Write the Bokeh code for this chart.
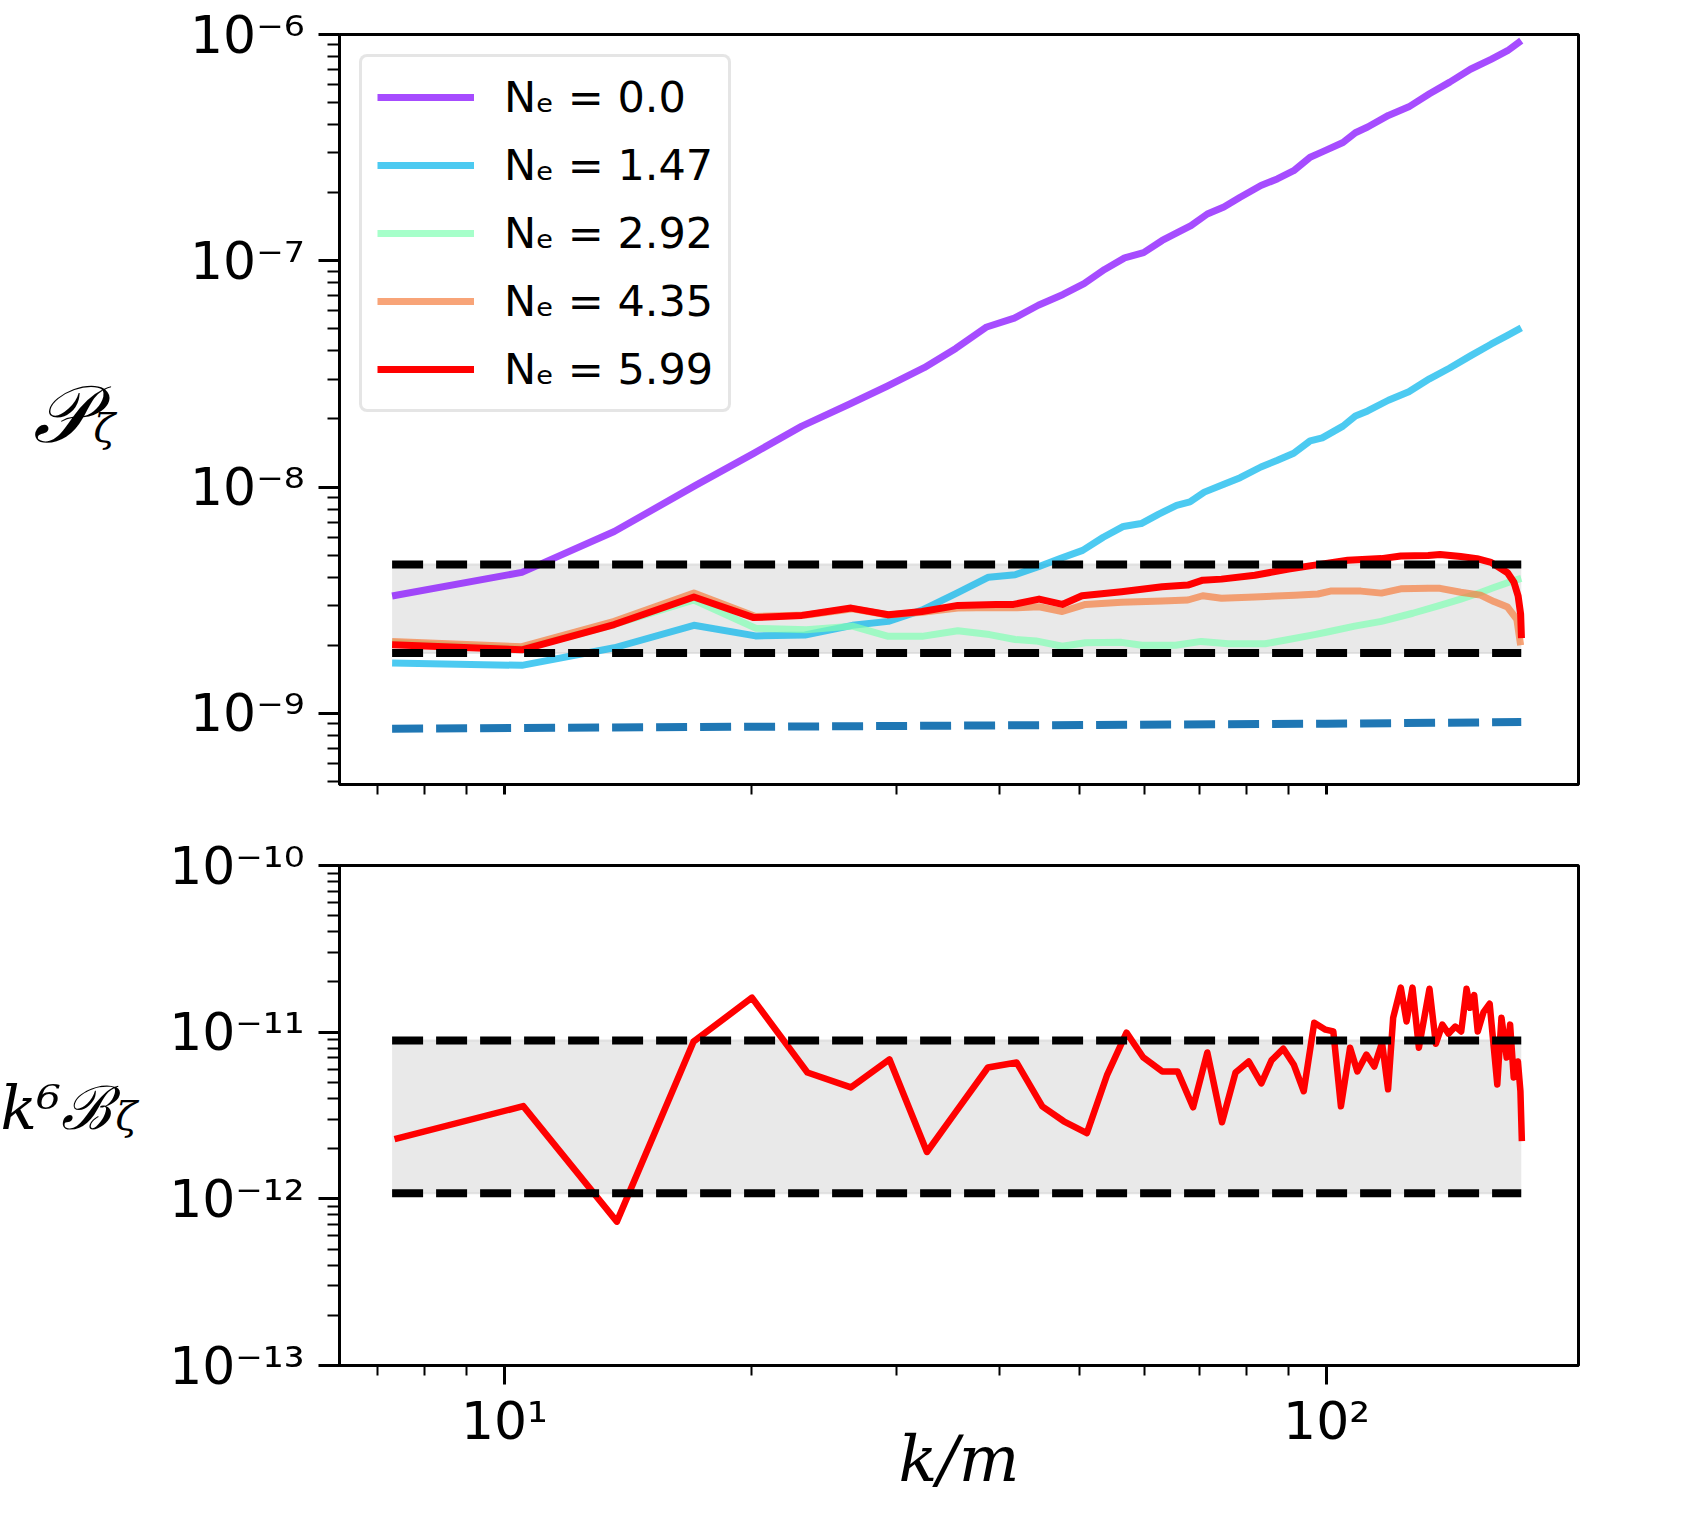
from bokeh.plotting import figure
from bokeh.models import Range1d, FixedTicker, CustomJSTickFormatter
from bokeh.layouts import column, row
from bokeh.embed import file_html
from bokeh.resources import INLINE
from bokeh.core.properties import value

# ---------------- data ----------------
labels = ["N\u2091 = 0.0", "N\u2091 = 1.47", "N\u2091 = 2.92", "N\u2091 = 4.35", "N\u2091 = 5.99"]

k_ne0 = [7.3, 10.5, 13.6, 17.1, 20.1, 23.0, 26.3, 29.2, 32.4, 35.4, 38.6, 41.7, 44.6, 47.8, 50.7,
         53.7, 56.8, 59.9, 63.1, 66.0, 68.4, 71.6, 75.0, 78.5, 83.2, 87.1, 91.2, 95.5, 98.8, 104.7,
         108.4, 112.2, 118.9, 125.9, 133.4, 141.2, 149.6, 158.5, 166.0, 172.5]
P_ne0 = [3.3e-9, 4.2e-9, 6.36e-9, 1.02e-8, 1.41e-8, 1.86e-8, 2.33e-8, 2.79e-8, 3.37e-8, 4.1e-8,
         5.1e-8, 5.58e-8, 6.36e-8, 7.1e-8, 7.93e-8, 9.16e-8, 1.03e-7, 1.087e-7, 1.23e-7, 1.34e-7,
         1.43e-7, 1.61e-7, 1.73e-7, 1.91e-7, 2.15e-7, 2.30e-7, 2.50e-7, 2.87e-7, 3.03e-7, 3.33e-7,
         3.68e-7, 3.90e-7, 4.39e-7, 4.79e-7, 5.47e-7, 6.16e-7, 7.02e-7, 7.77e-7, 8.48e-7, 9.4e-7]

k_ne1 = [7.3, 10.5, 13.6, 17.0, 20.2, 23.2, 26.5, 29.3, 32.2, 35.5, 38.8, 41.8, 44.7, 47.5, 50.5,
         53.5, 56.6, 59.5, 62.5, 65.7, 68.2, 71.0, 75.0, 78.5, 83.2, 87.0, 91.2, 95.5, 98.8, 104.7,
         108.4, 112.2, 118.9, 125.9, 133.4, 141.2, 149.6, 158.5, 166.0, 172.5]
P_ne1 = [1.67e-9, 1.63e-9, 1.95e-9, 2.45e-9, 2.2e-9, 2.22e-9, 2.45e-9, 2.55e-9, 2.86e-9, 3.4e-9,
         4.0e-9, 4.1e-9, 4.46e-9, 4.85e-9, 5.25e-9, 6.0e-9, 6.7e-9, 6.9e-9, 7.6e-9, 8.3e-9,
         8.6e-9, 9.5e-9, 1.03e-8, 1.1e-8, 1.227e-8, 1.31e-8, 1.41e-8, 1.60e-8, 1.65e-8, 1.86e-8,
         2.06e-8, 2.17e-8, 2.42e-8, 2.64e-8, 3.01e-8, 3.36e-8, 3.80e-8, 4.28e-8, 4.68e-8, 5.05e-8]

k_ne2 = [7.3, 10.5, 13.6, 17.0, 20.2, 23.3, 26.5, 29.3, 32.2, 35.6, 38.9, 41.8, 44.3, 47.7, 50.9,
         56.3, 59.6, 65.5, 70.4, 75.9, 84.2, 89.9, 96.7, 100.2, 108.2, 116.6, 127.3, 137.4, 145.6,
         153.9, 159.8, 166.0, 172.5]
P_ne2 = [2.05e-9, 1.93e-9, 2.47e-9, 3.17e-9, 2.38e-9, 2.34e-9, 2.43e-9, 2.19e-9, 2.19e-9, 2.32e-9,
         2.23e-9, 2.12e-9, 2.09e-9, 1.98e-9, 2.05e-9, 2.06e-9, 2.0e-9, 2.0e-9, 2.08e-9, 2.03e-9,
         2.03e-9, 2.12e-9, 2.23e-9, 2.29e-9, 2.43e-9, 2.55e-9, 2.77e-9, 3.0e-9, 3.2e-9, 3.42e-9,
         3.6e-9, 3.78e-9, 3.95e-9]

k_ne3 = [7.3, 10.5, 13.6, 17.0, 20.2, 23.3, 26.5, 29.3, 32.2, 35.6, 39.6, 42.0, 44.7, 47.7, 50.9,
         56.3, 63.1, 67.8, 70.7, 74.5, 81.8, 91.5, 97.6, 101.1, 110.1, 116.6, 123.1, 132.9, 137.4,
         145.6, 153.9, 159.8, 166.0, 170.4, 172.2]
P_ne3 = [2.08e-9, 1.97e-9, 2.55e-9, 3.4e-9, 2.68e-9, 2.72e-9, 2.9e-9, 2.72e-9, 2.8e-9, 2.92e-9,
         2.94e-9, 2.93e-9, 2.96e-9, 2.82e-9, 3.03e-9, 3.10e-9, 3.14e-9, 3.17e-9, 3.31e-9, 3.23e-9,
         3.27e-9, 3.33e-9, 3.37e-9, 3.47e-9, 3.47e-9, 3.4e-9, 3.55e-9, 3.57e-9, 3.57e-9, 3.43e-9,
         3.33e-9, 3.12e-9, 2.95e-9, 2.6e-9, 2.0e-9]

k_ne4 = [7.3, 10.5, 13.6, 17.0, 20.1, 23.0, 26.4, 29.3, 32.2, 35.6, 39.6, 41.6, 44.7, 47.7, 50.4,
         56.3, 63.1, 67.8, 70.7, 74.5, 81.8, 89.9, 96.7, 106.1, 116.6, 123.1, 132.9, 137.4, 145.6,
         152.4, 158.5, 166.0, 169.0, 171.0, 172.2, 172.6]
P_ne4 = [2.01e-9, 1.91e-9, 2.47e-9, 3.27e-9, 2.65e-9, 2.71e-9, 2.92e-9, 2.73e-9, 2.82e-9, 3.0e-9,
         3.03e-9, 3.03e-9, 3.2e-9, 3.03e-9, 3.31e-9, 3.45e-9, 3.63e-9, 3.69e-9, 3.88e-9, 3.92e-9,
         4.08e-9, 4.34e-9, 4.52e-9, 4.75e-9, 4.83e-9, 4.96e-9, 4.99e-9, 5.04e-9, 4.93e-9, 4.83e-9,
         4.65e-9, 4.18e-9, 3.8e-9, 3.3e-9, 2.75e-9, 2.15e-9]

k_ref = [7.3, 17.0, 40.0, 100.0, 172.5]
P_ref = [8.55e-10, 8.7e-10, 8.85e-10, 9.0e-10, 9.15e-10]

band_k = [7.3, 172.5]
P_band_lo = [1.85e-9, 1.85e-9]
P_band_hi = [4.55e-9, 4.55e-9]
B_band_lo = [1.08e-12, 1.08e-12]
B_band_hi = [8.9e-12, 8.9e-12]

k_B = [7.35, 10.54, 13.7, 16.98, 20.0, 23.36, 26.39, 29.4, 32.65, 35.44, 38.73, 41.98, 45.1, 47.9,
       51.1, 54.1, 57.1, 59.85, 63.1, 65.9, 68.8, 71.6, 74.6, 77.5, 80.4, 83.3, 85.7, 88.6, 91.2,
       93.8, 96.6, 99.7, 101.9, 104.1, 106.8, 109.0, 111.8, 114.3, 116.8, 118.8, 120.5, 123.1,
       125.1, 127.2, 129.5, 133.4, 135.8, 138.3, 140.7, 143.4, 145.8, 148.0, 149.5, 151.2, 152.7,
       155.2, 157.9, 161.3, 163.2, 165.6, 167.2, 168.9, 170.9, 172.1, 172.8]
B_k6 = [2.28e-12, 3.6e-12, 7.3e-13, 8.77e-12, 1.61e-11, 5.73e-12, 4.66e-12, 6.86e-12, 1.91e-12,
        3.35e-12, 6.14e-12, 6.57e-12, 3.59e-12, 2.92e-12, 2.48e-12, 5.57e-12, 9.93e-12, 7.05e-12,
        5.81e-12, 5.81e-12, 3.54e-12, 7.55e-12, 2.88e-12, 5.73e-12, 6.67e-12, 4.93e-12, 6.77e-12,
        7.96e-12, 6.40e-12, 4.42e-12, 1.14e-11, 1.035e-11, 1.01e-11, 3.59e-12, 8.07e-12, 5.81e-12,
        7.34e-12, 6.22e-12, 8.65e-12, 4.54e-12, 1.22e-11, 1.85e-11, 1.16e-11, 1.85e-11, 8.07e-12,
        1.82e-11, 8.53e-12, 1.11e-11, 9.8e-12, 1.08e-11, 1.01e-11, 1.82e-11, 1.40e-11, 1.67e-11,
        1.01e-11, 1.32e-11, 1.48e-11, 4.86e-12, 1.22e-11, 7.05e-12, 1.11e-11, 5.35e-12, 6.67e-12,
        4.42e-12, 2.22e-12]

x_major = [10, 100]
x_minor = [7, 8, 9, 20, 30, 40, 50, 60, 70, 80, 90]
y1_major = [1e-9, 1e-8, 1e-7, 1e-6]
y2_major = [1e-13, 1e-12, 1e-11, 1e-10]
mult = [2, 3, 4, 5, 6, 7, 8, 9]
y1_minor = [m * d for d in [1e-10, 1e-9, 1e-8, 1e-7] for m in mult]
y2_minor = [m * d for d in [1e-13, 1e-12, 1e-11] for m in mult]

colors = ["#8000ff", "#00b4eb", "#80ffb4", "#f57e3e", "#ff0000"]
alphas = [0.7, 0.7, 0.7, 0.7, 1.0]

ylabel1 = ["\U0001D4AB", "\u03b6"]
ylabel2 = ["k\u2076\u212c", "\u03b6"]
xlabel = "k/m"

# ---------------- figures ----------------
sup_code = """
const e = Math.round(Math.log10(tick));
const m = {'-':'\u207b','0':'\u2070','1':'\u00b9','2':'\u00b2','3':'\u00b3','4':'\u2074',
           '5':'\u2075','6':'\u2076','7':'\u2077','8':'\u2078','9':'\u2079'};
return '10' + String(e).split('').map(c => m[c]).join('');
"""

xr = Range1d(6.3, 202.5)
LW = 150          # width of the label strip on the left
W = 1690 - LW
FL, FR = 189, 112
H1, H2 = 824, 686


def style(p, ymaj, ymin, xlabels=True):
    p.outline_line_color = "black"
    p.outline_line_width = 3
    p.xgrid.visible = False
    p.ygrid.visible = False
    p.background_fill_color = "white"
    p.border_fill_color = "white"
    p.xaxis.ticker = FixedTicker(ticks=x_major, minor_ticks=x_minor)
    p.yaxis.ticker = FixedTicker(ticks=ymaj, minor_ticks=ymin)
    for ax in (p.xaxis[0], p.yaxis[0]):
        ax.axis_line_width = 3
        ax.major_tick_line_width = 3
        ax.minor_tick_line_width = 2
        ax.major_tick_in = 0
        ax.minor_tick_in = 0
        ax.major_label_text_font = "DejaVu Sans"
        ax.major_label_text_font_size = "52px"
        ax.major_label_text_color = "black"
    p.yaxis.major_tick_out = 21
    p.yaxis.minor_tick_out = 12
    p.xaxis.major_tick_out = 19 if xlabels else 10
    p.xaxis.minor_tick_out = 10
    p.yaxis.major_label_standoff = 14
    p.xaxis.major_label_standoff = 6
    p.yaxis.formatter = CustomJSTickFormatter(code=sup_code)
    if xlabels:
        p.xaxis.formatter = CustomJSTickFormatter(code=sup_code)
    else:
        p.xaxis.formatter = CustomJSTickFormatter(code="return '';")


def label_strip(h):
    f = figure(width=LW, height=h, x_range=Range1d(0, LW), y_range=Range1d(h, 0),
               output_backend="svg", toolbar_location=None,
               x_axis_location=None, y_axis_location=None,
               min_border_left=0, min_border_right=0, min_border_top=0, min_border_bottom=0)
    f.outline_line_color = None
    f.xgrid.visible = False
    f.ygrid.visible = False
    f.background_fill_color = "white"
    f.border_fill_color = "white"
    return f


p1 = figure(width=W, height=H1, x_axis_type="log", y_axis_type="log",
            x_range=xr, y_range=Range1d(4.85e-10, 1e-6),
            output_backend="svg", toolbar_location=None,
            min_border_left=FL, min_border_right=FR, min_border_top=34, min_border_bottom=40)
style(p1, y1_major, y1_minor, xlabels=False)

p1.varea(x=band_k, y1=P_band_lo, y2=P_band_hi, fill_color="#d3d3d3", fill_alpha=0.5)
p1.line(band_k, P_band_lo, line_color="#d3d3d3", line_alpha=0.6, line_width=2)
p1.line(band_k, P_band_hi, line_color="#d3d3d3", line_alpha=0.6, line_width=2)
p1.line(k_ref, P_ref, line_color="#1f77b4", line_width=8, line_dash="31 13")

series_k = [k_ne0, k_ne1, k_ne2, k_ne3, k_ne4]
series_P = [P_ne0, P_ne1, P_ne2, P_ne3, P_ne4]
for kk, PP, c, a, lab in zip(series_k, series_P, colors, alphas, labels):
    p1.line(kk, PP, line_color=c, line_alpha=a, line_width=7, line_join="round",
            legend_label=lab)

p1.line(band_k, P_band_hi, line_color="black", line_width=8, line_dash="31 13")
p1.line(band_k, P_band_lo, line_color="black", line_width=8, line_dash="31 13")

leg = p1.legend[0]
leg.location = "top_left"
leg.margin = 20
leg.padding = 15
leg.spacing = 18
leg.glyph_width = 97
leg.glyph_height = 44
leg.label_height = 44
leg.label_standoff = 30
leg.label_text_font = "DejaVu Sans"
leg.label_text_font_size = "43px"
leg.label_text_color = "black"
leg.label_text_baseline = "middle"
leg.border_line_color = "#cccccc"
leg.border_line_width = 3
leg.background_fill_alpha = 0.8
try:
    leg.border_radius = 8
except Exception:
    pass

p2 = figure(width=W, height=H2, x_axis_type="log", y_axis_type="log",
            x_range=xr, y_range=Range1d(1e-13, 1e-10),
            output_backend="svg", toolbar_location=None,
            min_border_left=FL, min_border_right=FR, min_border_top=41, min_border_bottom=145)
style(p2, y2_major, y2_minor, xlabels=True)
p2.xaxis.axis_label = xlabel
p2.xaxis.axis_label_text_font = "DejaVu Serif"
p2.xaxis.axis_label_text_font_style = "italic"
p2.xaxis.axis_label_text_font_size = "64px"
p2.xaxis.axis_label_text_color = "black"
p2.xaxis.axis_label_standoff = -32

p2.varea(x=band_k, y1=B_band_lo, y2=B_band_hi, fill_color="#d3d3d3", fill_alpha=0.5)
p2.line(band_k, B_band_lo, line_color="#d3d3d3", line_alpha=0.6, line_width=2)
p2.line(band_k, B_band_hi, line_color="#d3d3d3", line_alpha=0.6, line_width=2)
p2.line(k_B, B_k6, line_color="#ff0000", line_width=6.5, line_join="round")
p2.line(band_k, B_band_hi, line_color="black", line_width=8, line_dash="31 13")
p2.line(band_k, B_band_lo, line_color="black", line_width=8, line_dash="31 13")

# y-axis titles, drawn as text in narrow strips left of each panel
s1 = label_strip(H1)
s1.text(x=[32], y=[418], text=[ylabel1[0]], text_font=value("DejaVu Serif"),
        text_font_style="italic", text_font_size="80px", text_baseline="alphabetic",
        text_color="black")
s1.text(x=[93], y=[432], text=[ylabel1[1]], text_font=value("DejaVu Serif"),
        text_font_style="italic", text_font_size="40px", text_baseline="alphabetic",
        text_color="black")

s2 = label_strip(H2)
s2.text(x=[0], y=[333], text=[ylabel2[0]], text_font=value("DejaVu Serif"),
        text_font_style="italic", text_font_size="60px", text_baseline="alphabetic",
        text_color="black")
s2.text(x=[115], y=[343], text=[ylabel2[1]], text_font=value("DejaVu Serif"),
        text_font_style="italic", text_font_size="40px", text_baseline="alphabetic",
        text_color="black")

layout = column(row(s1, p1), row(s2, p2))
open("out.html", "w").write(file_html(layout, INLINE))
